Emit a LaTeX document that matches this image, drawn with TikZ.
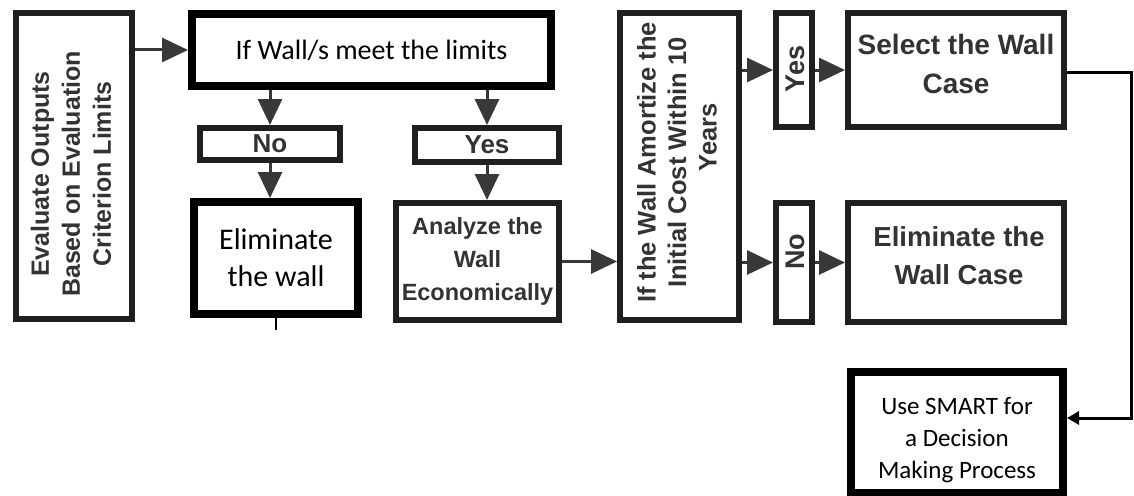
\documentclass[tikz,border=0pt]{standalone}
\usepackage{fontspec}
\setmainfont{Carlito}
\newfontfamily\arialfont{Liberation Sans}
\usetikzlibrary{arrows.meta}

\begin{document}
\begin{tikzpicture}[x=1pt, y=1pt,
		box/.style={draw=black!88, line width=6pt, fill=white, inner sep=0pt},
		heavybox/.style={box, draw=black, line width=8pt},
		boldtxt/.style={font=\arialfont\bfseries\fontsize{26}{31}\selectfont, text=black!80, align=center},
		caltxt/.style={font=\fontsize{28}{36}\selectfont, align=center},
		arr/.style={draw=black!78, line width=3pt, -{Triangle[length=26pt, width=24pt, fill=black!78]}},
		link/.style={draw=black, line width=3pt, -{Triangle[length=12pt, width=13pt]}}]
		%%%%% START %%%%%
		
		\useasboundingbox (0, 0) rectangle (1134, -495);
		
		% left column
		\node[box, minimum width=116pt, minimum height=306pt] (eval) at (74, -166) {};
		\node[boldtxt, rotate=90, font=\arialfont\bfseries\fontsize{25}{31}\selectfont] (evaltxt) at (71, -174) {Evaluate Outputs\\Based on Evaluation\\Criterion Limits};
		
		\node[heavybox, caltxt, minimum width=359pt, minimum height=72pt] (limits) at (371.5, -50) {If Wall/s meet the limits};
		
		\node[box, boldtxt, minimum width=140pt, minimum height=32pt] (no1) at (270, -144) {No};
		\node[heavybox, caltxt, font=\fontsize{30}{37}\selectfont, minimum width=164pt, minimum height=112pt] (elim) at (276, -258) {Eliminate\\the wall};
		\draw[line width=2pt] (elim.south) -- ++(0, -12);
		
		\node[box, boldtxt, minimum width=144pt, minimum height=34pt] (yes1) at (487, -145) {Yes};
		\node[box, boldtxt, font=\arialfont\bfseries\fontsize{23.5}{33}\selectfont, minimum width=163pt, minimum height=117pt] (analyze) at (477.5, -261.5) {Analyze the\\Wall\\Economically};
		
		% amortization check
		\node[box, minimum width=119pt, minimum height=307pt] (amort) at (679.5, -166.5) {};
		\node[boldtxt, rotate=90, font=\arialfont\bfseries\fontsize{25.5}{30.5}\selectfont] (amorttxt) at (677, -162.5) {If the Wall Amortize the\\Initial Cost Within 10\hspace*{20pt}\\\hspace*{50pt}Years};
		
		\node[box, minimum width=36pt, minimum height=114pt] (yes2) at (794, -70) {};
		\node[boldtxt, rotate=90, font=\arialfont\bfseries\fontsize{27}{31}\selectfont] (yes2txt) at (795, -69) {Yes};
		\node[box, minimum width=36pt, minimum height=119pt] (no2) at (794, -262.5) {};
		\node[boldtxt, rotate=90, font=\arialfont\bfseries\fontsize{27}{31}\selectfont] (no2txt) at (795, -252) {No};
		
		\node[box, minimum width=216pt, minimum height=114pt] (select) at (956, -70) {};
		\node[boldtxt, font=\arialfont\bfseries\fontsize{28}{39}\selectfont] (selecttxt) at (956, -64) {Select the Wall\\Case};
		\node[box, minimum width=216pt, minimum height=119pt] (elimcase) at (956, -262.5) {};
		\node[boldtxt, font=\arialfont\bfseries\fontsize{27.5}{38}\selectfont] (elimcasetxt) at (959, -256) {Eliminate the\\Wall Case};
		
		\node[heavybox, minimum width=212pt, minimum height=121pt] (smart) at (957, -432.5) {};
		\node[caltxt, font=\fontsize{25}{31.7}\selectfont] (smarttxt) at (957, -440) {Use SMART for\\a Decision\\Making Process};
		
		% arrows
		\draw[arr] (eval.east |- limits.west) -- (limits.west);
		\draw[arr] (no1.north |- limits.south) -- (no1.north);
		\draw[arr] (no1.south) -- (no1.south |- elim.north);
		\draw[arr] (yes1.north |- limits.south) -- (yes1.north);
		\draw[arr] (yes1.south) -- (yes1.south |- analyze.north);
		\draw[arr] (analyze.east) -- (analyze.east -| amort.west);
		\draw[arr] (amort.east |- yes2.west) -- (yes2.west);
		\draw[arr] (yes2.east) -- (select.west);
		\draw[arr] (amort.east |- no2.west) -- (no2.west);
		\draw[arr] (no2.east) -- (elimcase.west);
		
		\coordinate (turn) at (1131, -418);
		\draw[link] ([yshift=-2pt]select.east) -| (turn) -- (turn -| smart.east);
		
		%%%%% END %%%%%
	\end{tikzpicture}
\end{document}
